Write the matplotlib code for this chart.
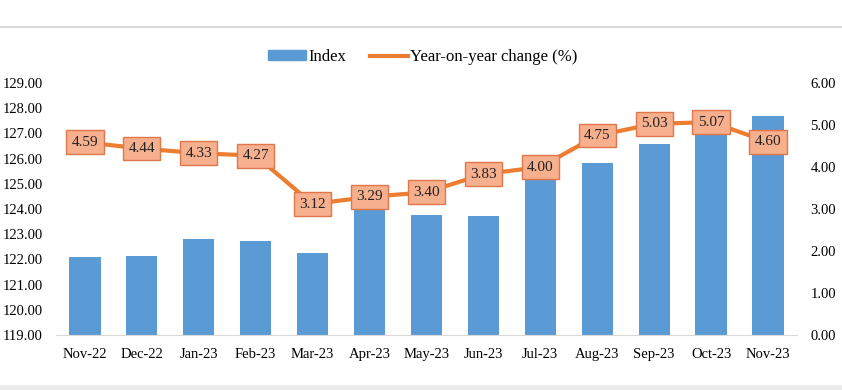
import matplotlib
matplotlib.use('Agg')
import matplotlib.pyplot as plt
from matplotlib.lines import Line2D
from matplotlib.patches import Rectangle

months = ['Nov-22', 'Dec-22', 'Jan-23', 'Feb-23', 'Mar-23', 'Apr-23', 'May-23',
          'Jun-23', 'Jul-23', 'Aug-23', 'Sep-23', 'Oct-23', 'Nov-23']
index_vals = [122.10, 122.14, 122.81, 122.73, 122.25, 124.00, 123.76,
              123.73, 125.20, 125.84, 126.59, 127.15, 127.69]
yoy_change = [4.59, 4.44, 4.33, 4.27, 3.12, 3.29, 3.40,
              3.83, 4.00, 4.75, 5.03, 5.07, 4.60]

plt.rcParams['font.family'] = ['Liberation Serif', 'DejaVu Serif']
plt.rcParams['font.size'] = 10.5

fig = plt.figure(figsize=(8.42, 3.90), dpi=100)
ax = fig.add_axes([0.067, 0.141, 0.879, 0.646])
ax2 = ax.twinx()

x = range(len(months))
ax.bar(x, [v - 119 for v in index_vals], bottom=119, width=0.55,
       color='#5B9BD5', zorder=2)
ax.set_ylim(119, 129)
ax.set_yticks([119 + i for i in range(11)])
ax.set_yticklabels(['%.2f' % (119 + i) for i in range(11)])
ax.set_xlim(-0.5, len(months) - 0.5)
ax.set_xticks(list(x))
ax.set_xticklabels(months)

ax2.set_ylim(0, 6)
ax2.set_yticks(range(7))
ax2.set_yticklabels(['%.2f' % i for i in range(7)])
ax2.plot(x, yoy_change, color='#ED7D31', lw=3, zorder=3,
         solid_capstyle='round')
for i, v in enumerate(yoy_change):
    ax2.text(i, v, '%.2f' % v, ha='center', va='center', fontsize=11,
             color='#222222', zorder=4,
             bbox=dict(boxstyle='square,pad=0.35', fc='#F7B08E',
                       ec='#E0774A', lw=1))

for a in (ax, ax2):
    for s in a.spines.values():
        s.set_visible(False)
    a.tick_params(length=0)
ax.spines['bottom'].set_visible(True)
ax.spines['bottom'].set_color('#d9d9d9')
ax.tick_params(axis='y', pad=10)
ax.tick_params(axis='x', pad=9)
ax2.tick_params(axis='y', pad=10)

handles = [Rectangle((0, 0), 1, 1, color='#5B9BD5'),
           Line2D([0], [0], color='#ED7D31', lw=3)]
fig.legend(handles, ['Index', 'Year-on-year change (%)'], loc='center',
           bbox_to_anchor=(0.502, 0.853), ncol=2, frameon=False,
           handlelength=2.3, handleheight=0.55, columnspacing=1.4,
           handletextpad=0.15, fontsize=12)

# page frame lines
fig.add_artist(Line2D([0, 1], [1 - 27 / 390, 1 - 27 / 390],
                      transform=fig.transFigure, color='#d0d0d0', lw=1.2))
fig.add_artist(Rectangle((0, 0), 1, 5 / 390, transform=fig.transFigure,
                         color='#ececec', lw=0))

fig.savefig('out.png', dpi=100)
